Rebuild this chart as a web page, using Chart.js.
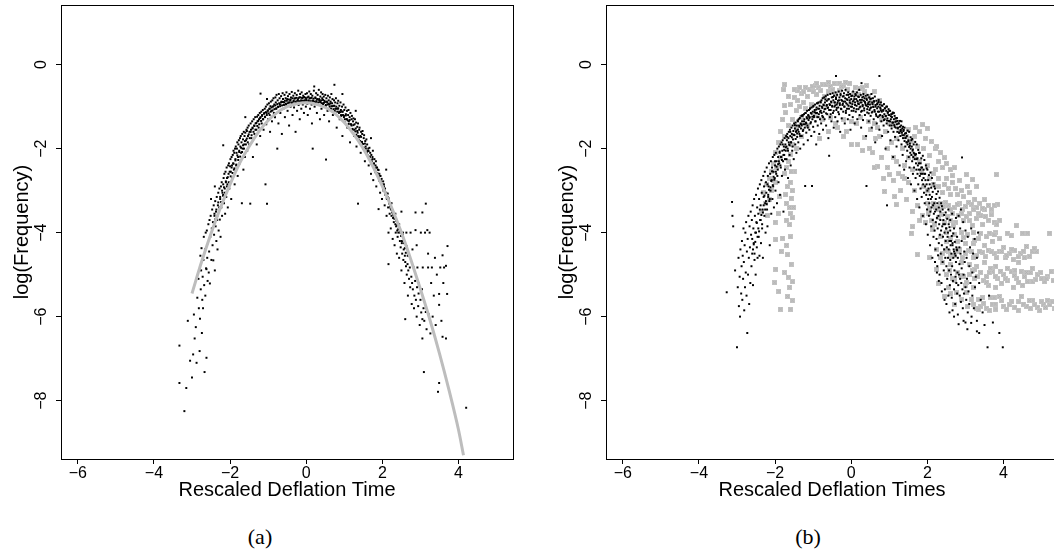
<!DOCTYPE html>
<html><head><meta charset="utf-8">
<script src="https://cdn.jsdelivr.net/npm/chart.js@4.4.1/dist/chart.umd.min.js"></script>
<style>
html,body{margin:0;padding:0;background:#fff;overflow:hidden;width:1054px;height:556px;}
#wrap{position:relative;width:1054px;height:556px;overflow:hidden;background:#fff;}
canvas{position:absolute;top:0;}
.cap{position:absolute;font-family:"Liberation Serif","DejaVu Serif",serif;font-size:22px;color:#000;transform:translate(-50%,-50%);white-space:nowrap;}
</style></head><body>
<div id="wrap">
<canvas id="ca" width="530" height="510" style="left:0px"></canvas>
<canvas id="cb" width="530" height="510" style="left:545px"></canvas>
<div class="cap" style="left:260px;top:537px">(a)</div>
<div class="cap" style="left:808px;top:537px">(b)</div>
</div>
<script>
// ---- tick labels / axis ranges ----
const xTickValues = [-6, -4, -2, 0, 2, 4];
const yTickValues = [0, -2, -4, -6, -8];
const xLimits = [-6.44, 5.43];
const yLimits = [-9.39, 1.42];
const xTitleA = "Rescaled Deflation Time";
const xTitleB = "Rescaled Deflation Times";
const yTitle = "log(Frequency)";

// ---- panel (a): fitted curve (grey) ----
const aFitCurve = [[-3.0,-5.45],[-2.75,-4.7],[-2.5,-4.02],[-2.25,-3.4],[-2.0,-2.85],[-1.75,-2.35],[-1.5,-1.95],[-1.25,-1.6],[-1.0,-1.33],[-0.75,-1.13],[-0.5,-1.0],[-0.25,-0.93],[0.0,-0.91],[0.25,-0.94],[0.5,-1.02],[0.75,-1.16],[1.0,-1.38],[1.25,-1.66],[1.5,-2.0],[1.75,-2.42],[2.0,-2.9],[2.25,-3.42],[2.5,-4.0],[2.75,-4.65],[3.0,-5.35],[3.25,-6.08],[3.5,-6.88],[3.75,-7.75],[4.0,-8.7],[4.13,-9.3]];

// ---- panel (a): observed points (black), scattered part ----
const aObserved = [
[-3.33,-6.69],[-3.33,-7.58],[-3.2,-8.25],[-3.15,-7.7],[-3.11,-6.1],[-3.05,-7.05],[-3.0,-7.45],[-2.97,-6.9],[-2.93,-6.52],[-2.95,-5.95],[-2.9,-6.25],[-2.88,-7.1],[-2.86,-5.55],
[-2.83,-5.1],[-2.82,-5.8],[-2.8,-6.82],[-2.79,-6.05],[-2.78,-4.55],[-2.77,-5.35],[-2.76,-4.9],[-2.75,-4.37],[-2.74,-6.39],[-2.73,-5.6],[-2.72,-5.05],[-2.71,-5.8],[-2.7,-4.65],[-2.69,-4.1],[-2.68,-5.25],[-2.67,-7.32],[-2.66,-4.4],[-2.65,-5.5],[-2.64,-4.0],[-2.63,-4.85],[-2.62,-6.98],[-2.62,-4.87],[-2.61,-3.95],[-2.6,-4.6],[-2.59,-5.15],[-2.58,-4.25],[-2.57,-3.8],[-2.56,-4.95],[-2.55,-4.45],[-2.54,-3.7],[-2.53,-5.21],[-2.52,-4.1],[-2.51,-3.6],
[-2.49,-4.65],[-2.48,-3.9],[-2.47,-3.45],[-2.46,-4.3],[-2.45,-3.75],[-2.44,-4.66],[-2.43,-3.35],[-2.42,-4.05],[-2.41,-3.6],[-2.4,-4.9],[-2.39,-3.25],[-2.38,-3.85],[-2.37,-3.5],[-2.36,-4.2],[-2.35,-3.15],[-2.34,-3.7],[-2.33,-4.4],[-2.32,-3.35],[-2.31,-3.05],[-2.3,-3.95],[-2.29,-3.5],[-2.28,-2.95],[-2.27,-3.69],[-2.26,-3.2],[-2.25,-4.1],[-2.24,-2.9],[-2.23,-3.4],[-2.22,-2.8],[-2.21,-3.6],[-2.2,-3.05],
[-2.18,-3.1],[-2.18,-2.85],[-2.17,-2.7],[-2.16,-3.3],[-2.15,-2.6],[-2.14,-2.95],[-2.13,-3.55],[-2.12,-2.55],[-2.11,-2.8],[-2.1,-3.15],[-2.09,-2.45],[-2.08,-2.7],[-2.07,-2.85],[-2.06,-3.4],[-2.05,-2.4],[-2.04,-2.6],[-2.03,-2.35],[-2.02,-2.95],[-2.0,-2.42],[-1.99,-2.25],[-1.98,-2.55],[-1.97,-3.2],[-1.96,-2.2],[-1.95,-2.4],[-1.94,-2.7],[-1.93,-2.15],[-1.92,-2.35],[-1.91,-2.05],
[-1.9,-2.5],[-1.89,-2.1],[-1.88,-2.85],[-1.87,-2.0],[-1.86,-2.25],[-1.85,-1.95],[-1.84,-2.4],[-1.83,-2.1],[-1.82,-2.0],[-1.81,-1.85],[-1.8,-2.65],[-1.79,-2.2],[-1.78,-1.9],[-1.77,-1.8],[-1.76,-2.05],[-1.75,-2.35],[-1.74,-1.75],[-1.73,-1.95],[-1.72,-1.7],[-1.71,-2.1],[-1.7,-1.85],[-1.69,-3.3],[-1.68,-1.65],[-1.67,-2.0],[-1.66,-1.78],[-1.65,-2.5],[-1.64,-1.6],[-1.63,-1.9],[-1.62,-1.7],[-1.61,-2.2],
[-1.6,-1.62],[-1.58,-1.8],[-1.57,-1.55],[-1.56,-1.58],[-1.55,-2.05],[-1.54,-1.5],[-1.53,-1.7],[-1.51,-1.45],[-1.5,-1.9],[-1.49,-1.6],[-1.47,-3.31],[-1.46,-1.4],[-1.45,-1.55],[-1.44,-1.75],[-1.42,-1.35],[-1.41,-1.5],[-1.4,-2.2],[-1.38,-1.3],[-1.37,-1.45],[-1.36,-1.65],[-1.34,-1.25],[-1.33,-1.4],[-1.31,-1.55],[-1.3,-1.9],[-1.29,-1.24],[-1.28,-1.35],[-1.26,-1.2],[-1.25,-1.5],[-1.24,-1.3],[-1.22,-1.15],[-1.21,-1.7],[-1.2,-1.25],
[-1.18,-1.12],[-1.17,-1.4],[-1.16,-1.2],[-1.14,-1.08],[-1.13,-1.3],[-1.12,-1.55],[-1.1,-1.15],[-1.09,-1.05],[-1.08,-1.25],[-1.07,-2.85],[-1.06,-1.0],[-1.05,-1.42],[-1.04,-1.15],[-1.03,-3.31],[-1.02,-0.95],[-1.01,-1.1],[-1.0,-1.3],[-0.98,-0.92],[-0.97,-1.05],[-0.96,-1.2],[-0.95,-1.6],[-0.94,-0.99],[-0.93,-0.88],[-0.91,-1.1],[-0.9,-1.35],[-0.89,-0.85],[-0.88,-1.0],[-0.86,-0.8],[-0.85,-1.15],[-0.84,-0.95],[-0.82,-1.25],[-0.81,-0.78],[-0.8,-0.9],
[-0.79,-1.05],[-0.78,-0.72],[-0.76,-2.0],[-0.75,-0.85],[-0.74,-1.0],[-0.73,-1.4],[-0.72,-0.7],[-0.7,-0.8],[-0.69,-0.95],[-0.68,-1.15],[-0.66,-0.75],[-0.65,-0.88],[-0.64,-1.65],[-0.62,-0.68],[-0.61,-0.82],[-0.6,-1.05],[-0.58,-0.9],[-0.57,-0.72],[-0.56,-1.25],[-0.54,-0.8],[-0.53,-0.95],[-0.52,-0.66],[-0.5,-0.82],[-0.49,-1.1],[-0.48,-0.75],[-0.46,-0.9],[-0.45,-1.45],[-0.44,-0.7],[-0.42,-0.85],[-0.41,-1.0],
[-0.4,-0.78],[-0.38,-0.65],[-0.37,-0.92],[-0.36,-1.2],[-0.34,-0.74],[-0.33,-0.86],[-0.32,-1.02],[-0.3,-0.68],[-0.29,-0.8],[-0.28,-1.6],[-0.26,-0.9],[-0.25,-0.72],[-0.24,-1.1],[-0.22,-0.84],[-0.21,-0.62],[-0.2,-0.96],[-0.18,-0.78],[-0.17,-1.3],[-0.16,-0.7],[-0.14,-0.88],[-0.13,-1.05],[-0.12,-0.66],[-0.1,-0.8],[-0.09,-0.95],[-0.08,-0.74],[-0.06,-1.15],[-0.05,-0.78],[-0.04,-0.86],[-0.02,-0.7],[-0.01,-1.0],
[0.0,-0.82],[0.02,-0.68],[0.03,-0.93],[0.04,-1.2],[0.06,-0.76],[0.07,-0.88],[0.08,-0.64],[0.1,-1.05],[0.11,-0.8],[0.12,-0.7],[0.14,-0.95],[0.15,-1.4],[0.16,-0.74],[0.17,-2.0],[0.18,-0.86],[0.2,-0.62],[0.21,-0.52],[0.22,-1.0],[0.24,-0.78],[0.25,-0.9],[0.26,-0.68],[0.28,-1.15],[0.29,-0.82],[0.3,-0.72],[0.32,-0.96],[0.33,-0.6],[0.34,-0.85],[0.36,-1.3],[0.37,-0.76],[0.38,-0.9],[0.39,-0.66],
[0.4,-1.05],[0.42,-0.8],[0.43,-0.7],[0.44,-0.94],[0.46,-0.76],[0.47,-1.2],[0.48,-0.86],[0.5,-0.72],[0.51,-0.98],[0.52,-2.26],[0.53,-0.8],[0.55,-0.9],[0.56,-1.1],[0.57,-0.74],[0.59,-0.85],[0.6,-1.35],[0.61,-0.95],[0.62,-0.78],[0.64,-0.88],[0.65,-1.05],[0.66,-0.7],[0.68,-0.92],[0.69,-0.82],[0.7,-1.2],[0.72,-0.98],[0.73,-0.85],[0.74,-0.48],[0.75,-1.1],[0.76,-0.9],[0.78,-0.8],[0.79,-1.0],
[0.8,-1.5],[0.82,-0.92],[0.83,-1.05],[0.84,-0.86],[0.86,-1.15],[0.87,-0.98],[0.88,-1.3],[0.9,-0.9],[0.91,-1.08],[0.92,-1.22],[0.94,-1.0],[0.95,-1.7],[0.96,-1.12],[0.98,-0.95],[0.99,-1.25],[1.0,-1.08],[1.02,-1.38],[1.03,-1.02],[1.04,-1.18],[1.06,-1.3],[1.07,-1.1],[1.08,-1.5],[1.1,-1.2],[1.11,-1.08],[1.12,-1.35],[1.14,-1.25],[1.15,-1.85],[1.16,-1.15],[1.18,-1.42],[1.19,-1.3],
[1.2,-1.22],[1.22,-1.55],[1.23,-1.35],[1.24,-1.28],[1.26,-1.7],[1.27,-1.42],[1.28,-1.3],[1.3,-1.52],[1.31,-1.38],[1.32,-1.95],[1.34,-1.48],[1.35,-1.62],[1.36,-1.4],[1.36,-3.31],[1.38,-1.8],[1.39,-1.55],[1.4,-1.5],[1.42,-1.7],[1.43,-2.1],[1.44,-1.6],[1.46,-1.85],[1.47,-1.65],[1.48,-1.58],[1.5,-2.0],[1.51,-1.75],[1.52,-1.68],[1.54,-2.3],[1.55,-1.82],[1.56,-1.95],[1.58,-1.78],[1.59,-2.1],
[1.6,-1.9],[1.62,-2.05],[1.63,-2.0],[1.64,-2.4],[1.66,-1.98],[1.67,-2.2],[1.68,-2.1],[1.7,-2.6],[1.71,-2.15],[1.72,-2.3],[1.74,-2.2],[1.75,-2.05],[1.76,-2.75],[1.78,-2.35],[1.79,-2.25],[1.8,-2.5],[1.82,-2.4],[1.83,-2.3],[1.84,-2.9],[1.86,-2.45],[1.87,-2.6],[1.88,-2.5],[1.9,-2.51],[1.9,-3.44],[1.91,-2.7],[1.92,-2.6],[1.94,-3.05],[1.95,-2.65],[1.96,-2.8],[1.98,-2.72],[1.99,-3.2],
[2.0,-2.85],[2.02,-2.78],[2.03,-3.0],[2.04,-2.9],[2.06,-3.35],[2.07,-2.95],[2.08,-3.1],[2.1,-3.05],[2.11,-3.6],[2.12,-3.2],[2.14,-3.15],[2.15,-3.4],[2.16,-3.18],[2.16,-4.0],[2.16,-4.75],[2.18,-3.3],[2.19,-3.55],[2.2,-3.38],[2.22,-3.9],[2.23,-3.45],[2.24,-3.6],[2.26,-3.52],[2.27,-4.15],[2.28,-3.65],[2.3,-3.75],[2.31,-3.6],[2.32,-4.3],[2.34,-3.8],[2.35,-4.0],[2.36,-3.85],[2.38,-4.5],[2.39,-3.95],
[2.4,-4.1],[2.42,-4.0],[2.43,-3.86],[2.44,-4.6],[2.46,-4.2],[2.47,-4.0],[2.48,-4.35],[2.5,-4.9],[2.51,-4.25],[2.52,-4.5],[2.54,-4.0],[2.55,-4.65],[2.56,-4.4],[2.58,-5.2],[2.59,-4.55],[2.6,-4.7],[2.6,-6.06],[2.62,-4.8],[2.63,-4.0],[2.64,-5.0],[2.66,-4.75],[2.67,-5.5],[2.68,-4.9],[2.69,-4.54],[2.7,-5.1],[2.72,-4.83],[2.73,-5.3],[2.74,-4.0],[2.76,-5.05],[2.77,-5.7],[2.78,-5.2],[2.79,-4.4],
[2.8,-5.35],[2.82,-4.83],[2.83,-5.8],[2.84,-5.5],[2.86,-5.15],[2.87,-3.52],[2.87,-3.94],[2.88,-5.6],[2.9,-6.0],[2.91,-5.3],[2.92,-4.83],[2.94,-5.75],[2.95,-5.45],[2.96,-5.21],[2.98,-6.2],[3.0,-5.6],[3.01,-4.0],[3.02,-5.9],[3.04,-5.35],[3.05,-3.52],[3.05,-6.06],[3.05,-6.52],[3.06,-4.83],[3.08,-5.8],[3.09,-7.32],[3.1,-6.1],[3.12,-4.0],[3.14,-5.89],[3.14,-3.31],[3.16,-6.3],[3.18,-3.94],[3.2,-4.83],
[3.22,-5.95],[3.24,-4.0],[3.26,-6.4],[3.28,-5.2],[3.3,-4.83],[3.32,-6.0],[3.35,-5.5],[3.38,-4.6],[3.4,-6.2],[3.43,-5.0],[3.46,-7.79],[3.49,-5.72],[3.49,-7.58],[3.49,-5.46],[3.52,-4.83],[3.55,-6.1],[3.58,-6.48],[3.58,-4.54],[3.6,-5.2],[3.62,-4.83],[3.67,-6.52],[3.67,-4.79],[3.71,-4.32],[3.7,-5.46],[4.2,-8.17],
[-1.2,-0.69],[-1.03,-0.82],[-2.18,-1.92],[-1.6,-1.25],[-2.4,-2.9],[-2.5,-3.2],[0.95,-0.7],[1.3,-1.1],[1.7,-1.75],[2.1,-2.5],[2.5,-3.5],[2.9,-4.3],[3.2,-4.5]
];

// ---- panel (a): observed points (black), dense core of the band ----
const aObservedCore = [
[-2.41,-3.55],[-2.385,-3.68],[-2.36,-3.45],[-2.335,-3.6],[-2.31,-3.28],[-2.285,-3.4],[-2.26,-3.15],[-2.235,-3.27],
[-2.21,-3.0],[-2.185,-3.12],[-2.16,-2.92],[-2.135,-3.05],[-2.11,-2.78],[-2.085,-2.9],[-2.06,-2.68],[-2.035,-2.8],
[-2.01,-2.55],[-1.985,-2.66],[-1.96,-2.45],[-1.935,-2.58],[-1.91,-2.36],[-1.885,-2.47],[-1.86,-2.28],[-1.835,-2.38],
[-1.81,-2.16],[-1.785,-2.27],[-1.76,-2.08],[-1.735,-2.19],[-1.71,-1.98],[-1.685,-2.08],[-1.66,-1.92],[-1.635,-2.0],
[-1.61,-1.82],[-1.585,-1.9],[-1.56,-1.76],[-1.535,-1.85],[-1.51,-1.66],[-1.485,-1.75],[-1.46,-1.6],[-1.435,-1.68],
[-1.41,-1.52],[-1.385,-1.6],[-1.36,-1.46],[-1.335,-1.55],[-1.31,-1.39],[-1.285,-1.46],[-1.26,-1.34],[-1.235,-1.42],
[-1.21,-1.27],[-1.185,-1.34],[-1.16,-1.22],[-1.135,-1.3],[-1.11,-1.17],[-1.085,-1.24],[-1.06,-1.13],[-1.035,-1.2],
[-1.01,-1.09],[-0.985,-1.16],[-0.96,-1.05],[-0.935,-1.12],[-0.91,-1.02],[-0.885,-1.09],[-0.86,-0.99],[-0.835,-1.06],
[-0.81,-0.97],[-0.785,-1.04],[-0.76,-0.94],[-0.735,-1.01],[-0.71,-0.92],[-0.685,-0.99],[-0.66,-0.9],[-0.635,-0.97],
[-0.61,-0.89],[-0.585,-0.96],[-0.56,-0.86],[-0.535,-0.93],[-0.51,-0.86],[-0.485,-0.92],[-0.46,-0.83],[-0.435,-0.9],
[-0.41,-0.83],[-0.385,-0.9],[-0.36,-0.8],[-0.335,-0.88],[-0.31,-0.81],[-0.285,-0.88],[-0.26,-0.79],[-0.235,-0.86],
[-0.21,-0.8],[-0.185,-0.87],[-0.16,-0.78],[-0.135,-0.85],[-0.11,-0.79],[-0.085,-0.86],[-0.06,-0.77],[-0.035,-0.85],
[-0.01,-0.79],[0.015,-0.86],[0.04,-0.78],[0.065,-0.85],[0.09,-0.8],[0.115,-0.87],[0.14,-0.79],[0.165,-0.86],
[0.19,-0.81],[0.215,-0.88],[0.24,-0.8],[0.265,-0.87],[0.29,-0.83],[0.315,-0.9],[0.34,-0.82],[0.365,-0.89],
[0.39,-0.85],[0.415,-0.92],[0.44,-0.84],[0.465,-0.91],[0.49,-0.89],[0.515,-0.96],[0.54,-0.88],[0.565,-0.95],
[0.59,-0.93],[0.615,-1.0],[0.64,-0.92],[0.665,-0.99],[0.69,-0.99],[0.715,-1.06],[0.74,-0.98],[0.765,-1.05],
[0.79,-1.05],[0.815,-1.12],[0.84,-1.04],[0.865,-1.12],[0.89,-1.13],[0.915,-1.2],[0.94,-1.12],[0.965,-1.2],
[0.99,-1.22],[1.015,-1.3],[1.04,-1.21],[1.065,-1.3],[1.09,-1.33],[1.115,-1.41],[1.14,-1.32],[1.165,-1.42],
[1.19,-1.45],[1.215,-1.53],[1.24,-1.44],[1.265,-1.55],[1.29,-1.59],[1.315,-1.67],[1.34,-1.58],[1.365,-1.7],
[1.39,-1.73],[1.415,-1.82],[1.44,-1.72],[1.465,-1.84],[1.49,-1.89],[1.515,-1.98],[1.54,-1.88],[1.565,-2.0],
[1.59,-2.07],[1.615,-2.16],[1.64,-2.06],[1.665,-2.19],[1.69,-2.27],[1.715,-2.36],[1.74,-2.25],[1.765,-2.38],
[1.79,-2.47],[1.815,-2.56],[1.84,-2.45],[1.865,-2.58],[1.89,-2.67],[1.915,-2.76],[1.94,-2.65],[1.965,-2.78],
[1.99,-2.87],[2.015,-2.96],[2.04,-2.85],[2.065,-3.0],[2.09,-3.09],[2.115,-3.18],[2.14,-3.07],[2.165,-3.22],
[2.19,-3.32],[2.215,-3.42],[2.24,-3.3],[2.265,-3.46],[2.29,-3.57],[2.315,-3.67],[2.34,-3.55],[2.365,-3.72],
[2.39,-3.82],[2.415,-3.92],[2.44,-3.8],[2.465,-3.98],[2.49,-4.08],[2.515,-4.2],[2.54,-4.06],[2.565,-4.25],
[2.59,-4.37],[2.615,-4.48],[2.64,-4.33],[2.665,-4.55]
];

// ---- panel (b): observed points (black), scattered part ----
const bObserved = [
[-3.27,-5.42],[-3.13,-3.27],[-3.12,-3.6],[-3.1,-3.85],[-3.05,-4.9],[-3.0,-6.73],[-2.98,-5.3],[-2.96,-4.6],[-2.95,-5.75],[-2.93,-5.05],[-2.92,-6.0],[-2.91,-4.4],
[-2.89,-5.45],[-2.88,-4.8],[-2.87,-4.2],[-2.86,-5.6],[-2.85,-4.55],[-2.84,-5.1],[-2.83,-3.9],[-2.82,-4.7],[-2.81,-5.85],[-2.8,-4.3],[-2.79,-5.3],[-2.78,-4.0],[-2.77,-4.95],[-2.76,-3.75],[-2.75,-5.5],[-2.74,-4.45],[-2.73,-6.39],[-2.72,-4.15],[-2.71,-5.0],[-2.7,-3.6],[-2.69,-4.6],[-2.68,-5.7],[-2.67,-3.85],[-2.66,-4.35],[-2.65,-5.2],[-2.64,-3.5],[-2.63,-4.05],[-2.62,-4.8],[-2.61,-3.7],
[-2.6,-4.5],[-2.59,-3.35],[-2.58,-5.25],[-2.57,-3.9],[-2.56,-4.25],[-2.55,-3.2],[-2.54,-4.65],[-2.53,-3.6],[-2.52,-4.0],[-2.51,-5.0],[-2.5,-3.1],[-2.49,-3.75],[-2.48,-4.35],[-2.47,-3.4],[-2.46,-4.6],[-2.45,-2.95],[-2.44,-3.55],[-2.43,-4.1],[-2.42,-3.2],[-2.41,-4.55],[-2.4,-2.85],[-2.39,-3.7],[-2.38,-3.35],[-2.37,-4.25],[-2.36,-2.75],[-2.35,-3.05],[-2.34,-3.9],[-2.33,-3.45],[-2.32,-4.6],[-2.31,-2.65],
[-2.3,-3.15],[-2.29,-2.9],[-2.28,-3.6],[-2.27,-2.55],[-2.26,-3.3],[-2.25,-4.0],[-2.24,-2.8],[-2.23,-3.05],[-2.22,-2.45],[-2.21,-3.45],[-2.2,-3.85],[-2.19,-2.65],[-2.18,-3.15],[-2.17,-2.9],[-2.16,-2.35],[-2.15,-3.25],[-2.14,-4.3],[-2.13,-2.6],[-2.12,-3.0],[-2.11,-2.3],[-2.1,-3.55],[-2.09,-2.75],[-2.08,-2.45],[-2.07,-3.2],[-2.06,-2.2],[-2.05,-2.9],[-2.04,-2.55],[-2.03,-3.4],[-2.02,-2.15],[-2.01,-2.7],
[-2.0,-2.4],[-1.99,-3.0],[-1.98,-2.1],[-1.97,-2.6],[-1.96,-2.3],[-1.95,-3.3],[-1.94,-2.0],[-1.93,-2.5],[-1.92,-2.2],[-1.91,-2.8],[-1.9,-1.95],[-1.89,-2.35],[-1.88,-2.1],[-1.87,-3.1],[-1.86,-1.9],[-1.85,-2.45],[-1.84,-2.2],[-1.83,-1.85],[-1.82,-2.65],[-1.81,-2.05],[-1.8,-1.8],[-1.79,-2.3],[-1.78,-3.5],[-1.77,-1.95],[-1.76,-2.15],[-1.75,-1.75],[-1.74,-2.5],[-1.73,-1.9],[-1.72,-2.05],[-1.71,-1.7],
[-1.7,-2.25],[-1.69,-1.8],[-1.68,-1.65],[-1.67,-2.0],[-1.66,-2.7],[-1.65,-1.75],[-1.64,-1.6],[-1.63,-1.9],[-1.62,-2.15],[-1.61,-1.55],[-1.6,-1.7],[-1.59,-2.4],[-1.58,-1.85],[-1.57,-1.5],[-1.56,-1.65],[-1.55,-2.05],[-1.54,-1.45],[-1.53,-1.78],[-1.52,-1.58],[-1.51,-2.25],[-1.5,-1.4],[-1.49,-1.68],[-1.48,-1.52],[-1.47,-1.9],[-1.46,-1.38],[-1.45,-1.6],[-1.44,-2.1],[-1.43,-1.45],[-1.42,-1.72],[-1.41,-1.33],
[-1.4,-1.55],[-1.39,-1.85],[-1.38,-1.3],[-1.37,-1.45],[-1.36,-1.65],[-1.35,-1.27],[-1.34,-2.0],[-1.33,-1.4],[-1.32,-1.52],[-1.31,-1.22],[-1.3,-1.7],[-1.29,-1.35],[-1.28,-1.2],[-1.27,-1.58],[-1.26,-1.42],[-1.25,-1.9],[-1.24,-1.18],[-1.23,-1.3],[-1.22,-1.5],[-1.21,-2.89],[-1.2,-1.15],[-1.19,-1.38],[-1.18,-1.62],[-1.17,-1.25],[-1.16,-1.1],[-1.15,-1.45],[-1.14,-1.8],[-1.13,-1.2],[-1.12,-1.32],[-1.11,-1.08],
[-1.1,-1.55],[-1.09,-1.25],[-1.08,-1.05],[-1.07,-1.4],[-1.06,-1.15],[-1.05,-1.7],[-1.04,-1.02],[-1.03,-2.89],[-1.02,-1.3],[-1.01,-1.12],[-1.0,-1.48],[-0.99,-0.98],[-0.98,-1.22],[-0.97,-1.6],[-0.96,-1.08],[-0.95,-0.95],[-0.94,-1.35],[-0.93,-1.15],[-0.92,-1.9],[-0.91,-1.02],[-0.9,-0.92],[-0.89,-1.25],[-0.88,-1.45],[-0.87,-1.05],[-0.86,-0.9],[-0.85,-1.18],[-0.84,-1.65],[-0.83,-0.98],[-0.82,-1.3],[-0.81,-0.88],
[-0.8,-1.1],[-0.79,-1.4],[-0.78,-0.85],[-0.77,-1.0],[-0.76,-1.22],[-0.75,-0.8],[-0.74,-1.55],[-0.73,-0.95],[-0.72,-1.12],[-0.71,-0.78],[-0.7,-1.3],[-0.69,-0.9],[-0.68,-1.05],[-0.67,-0.75],[-0.66,-1.45],[-0.65,-0.98],[-0.64,-0.86],[-0.63,-1.18],[-0.62,-0.72],[-0.61,-1.02],[-0.6,-1.75],[-0.59,-0.82],[-0.58,-2.17],[-0.57,-0.94],[-0.56,-1.25],[-0.55,-0.7],[-0.54,-1.08],[-0.53,-0.88],[-0.52,-1.35],[-0.51,-0.78],
[-0.5,-0.98],[-0.49,-0.68],[-0.48,-1.15],[-0.47,-0.85],[-0.46,-1.5],[-0.45,-0.74],[-0.44,-1.0],[-0.43,-0.9],[-0.42,-1.25],[-0.41,-0.66],[-0.4,-0.27],[-0.4,-0.82],[-0.39,-1.08],[-0.38,-0.95],[-0.37,-0.72],[-0.36,-1.35],[-0.35,-0.86],[-0.34,-1.02],[-0.33,-0.64],[-0.32,-1.18],[-0.31,-0.78],[-0.3,-0.92],[-0.29,-1.6],[-0.28,-0.7],[-0.27,-1.05],[-0.26,-0.84],[-0.25,-1.28],[-0.24,-0.62],[-0.23,-0.96],[-0.22,-0.76],[-0.21,-1.12],
[-0.2,-0.88],[-0.19,-0.68],[-0.18,-1.0],[-0.17,-1.4],[-0.16,-0.8],[-0.15,-0.6],[-0.14,-1.15],[-0.13,-0.92],[-0.12,-0.72],[-0.11,-1.05],[-0.1,-0.84],[-0.09,-1.3],[-0.08,-0.66],[-0.07,-0.98],[-0.06,-0.78],[-0.05,-1.2],[-0.04,-0.9],[-0.03,-0.7],[-0.02,-1.55],[-0.01,-1.0],[0.0,-0.82],[0.01,-1.1],[0.02,-0.74],[0.03,-0.94],[0.04,-1.25],[0.05,-0.64],[0.06,-0.86],[0.07,-1.04],[0.08,-0.76],[0.09,-1.4],
[0.1,-0.9],[0.11,-0.7],[0.12,-1.12],[0.13,-0.82],[0.14,-0.98],[0.15,-0.66],[0.16,-1.3],[0.17,-0.88],[0.18,-0.76],[0.19,-1.06],[0.2,-0.94],[0.21,-0.6],[0.22,-1.2],[0.23,-0.84],[0.24,-1.0],[0.25,-0.72],[0.26,-1.5],[0.27,-0.44],[0.27,-0.9],[0.28,-1.1],[0.29,-0.78],[0.3,-0.96],[0.31,-1.32],[0.32,-0.7],[0.33,-0.86],[0.34,-1.04],[0.35,-0.8],[0.36,-1.2],[0.37,-0.92],[0.38,-0.74],[0.39,-1.7],
[0.4,-2.89],[0.4,-0.98],[0.41,-0.84],[0.42,-1.14],[0.43,-0.72],[0.44,-1.0],[0.45,-0.9],[0.46,-1.35],[0.47,-0.78],[0.48,-1.08],[0.49,-0.95],[0.5,-0.82],[0.51,-1.22],[0.52,-1.02],[0.53,-0.7],[0.54,-1.5],[0.55,-0.9],[0.56,-1.12],[0.57,-0.8],[0.58,-1.0],[0.59,-1.3],[0.6,-0.88],[0.61,-1.08],[0.62,-0.76],[0.63,-1.85],[0.64,-0.96],[0.65,-1.18],[0.66,-0.86],[0.67,-1.4],[0.68,-1.04],[0.69,-0.92],
[0.7,-1.25],[0.71,-1.0],[0.72,-0.84],[0.73,-1.12],[0.74,-0.27],[0.74,-1.55],[0.75,-0.95],[0.76,-1.2],[0.77,-1.05],[0.78,-0.9],[0.79,-1.35],[0.8,-1.12],[0.81,-1.7],[0.82,-0.98],[0.83,-1.25],[0.84,-1.08],[0.85,-1.45],[0.86,-0.94],[0.87,-1.18],[0.88,-1.3],[0.89,-1.04],[0.9,-2.0],[0.91,-1.22],[0.92,-1.1],[0.93,-1.4],[0.94,-3.35],[0.94,-1.0],[0.95,-1.28],[0.96,-1.15],[0.97,-1.6],[0.98,-1.06],[0.99,-1.34],
[1.0,-1.2],[1.01,-1.45],[1.02,-1.1],[1.03,-1.8],[1.04,-1.3],[1.05,-1.18],[1.06,-1.52],[1.07,-1.25],[1.08,-1.38],[1.09,-1.14],[1.1,-2.2],[1.11,-1.6],[1.12,-1.3],[1.13,-1.44],[1.14,-1.22],[1.15,-1.72],[1.16,-1.36],[1.17,-1.5],[1.18,-1.28],[1.19,-1.95],[1.2,-1.42],[1.21,-1.6],[1.22,-1.34],[1.23,-1.5],[1.24,-1.8],[1.25,-1.4],[1.26,-1.62],[1.27,-2.4],[1.28,-1.48],[1.29,-1.7],
[1.3,-1.55],[1.31,-1.45],[1.32,-1.9],[1.33,-1.62],[1.34,-1.52],[1.35,-2.15],[1.36,-1.75],[1.37,-1.58],[1.38,-1.68],[1.39,-2.5],[1.4,-1.82],[1.41,-1.64],[1.42,-1.95],[1.43,-1.74],[1.44,-2.3],[1.45,-1.85],[1.46,-1.7],[1.47,-2.05],[1.48,-1.9],[1.49,-2.7],[1.5,-1.8],[1.51,-2.2],[1.52,-1.96],[1.53,-2.45],[1.54,-1.88],[1.55,-2.1],[1.56,-2.0],[1.57,-2.85],[1.58,-2.15],[1.59,-1.95],
[1.6,-2.3],[1.61,-2.05],[1.62,-2.6],[1.63,-2.2],[1.64,-2.1],[1.65,-2.45],[1.66,-3.0],[1.67,-2.25],[1.68,-2.15],[1.69,-2.7],[1.7,-2.35],[1.71,-2.5],[1.72,-2.25],[1.73,-3.2],[1.74,-2.6],[1.75,-2.4],[1.76,-2.85],[1.77,-2.5],[1.78,-2.35],[1.79,-3.4],[1.8,-2.65],[1.81,-2.5],[1.82,-2.95],[1.83,-2.6],[1.84,-2.45],[1.85,-3.15],[1.86,-2.75],[1.87,-2.6],[1.88,-3.6],[1.89,-2.85],
[1.9,-2.7],[1.91,-3.05],[1.92,-2.6],[1.93,-3.3],[1.94,-2.9],[1.95,-2.75],[1.96,-3.8],[1.97,-3.1],[1.98,-2.85],[1.99,-3.45],[2.0,-3.0],[2.01,-4.05],[2.02,-3.2],[2.03,-2.95],[2.04,-3.6],[2.05,-3.3],[2.06,-3.1],[2.07,-4.3],[2.08,-3.5],[2.09,-3.2],[2.1,-3.85],[2.11,-3.4],[2.12,-3.15],[2.13,-4.6],[2.14,-3.7],[2.15,-3.35],[2.16,-4.1],[2.17,-3.55],[2.18,-3.3],[2.19,-3.95],
[2.2,-3.5],[2.21,-4.4],[2.22,-3.75],[2.23,-3.45],[2.24,-4.15],[2.25,-3.65],[2.26,-4.8],[2.27,-3.9],[2.28,-4.54],[2.29,-3.6],[2.3,-4.25],[2.31,-3.8],[2.32,-5.0],[2.33,-4.05],[2.34,-3.7],[2.35,-4.5],[2.36,-3.95],[2.37,-5.2],[2.38,-4.3],[2.39,-3.85],[2.4,-4.7],[2.41,-4.1],[2.42,-3.8],[2.43,-4.9],[2.44,-4.4],[2.45,-4.0],[2.46,-5.35],[2.47,-4.6],[2.48,-4.2],[2.49,-3.9],
[2.5,-4.8],[2.51,-4.35],[2.52,-5.1],[2.53,-4.1],[2.54,-4.6],[2.55,-5.5],[2.56,-4.4],[2.57,-4.9],[2.58,-4.2],[2.59,-5.25],[2.6,-4.65],[2.61,-4.3],[2.62,-5.0],[2.63,-4.5],[2.64,-5.55],[2.65,-4.8],[2.66,-4.25],[2.67,-5.15],[2.68,-4.6],[2.69,-4.4],[2.7,-5.35],[2.71,-4.9],[2.72,-4.5],[2.73,-5.7],[2.74,-5.05],[2.75,-4.7],[2.76,-5.2],[2.77,-4.4],[2.78,-5.45],[2.79,-4.95],
[2.8,-4.6],[2.81,-5.25],[2.82,-6.18],[2.83,-5.0],[2.84,-4.75],[2.85,-5.5],[2.86,-5.1],[2.87,-4.5],[2.88,-5.65],[2.89,-5.2],[2.9,-4.85],[2.91,-2.21],[2.92,-5.35],[2.93,-5.8],[2.95,-5.0],[2.96,-5.45],[2.98,-4.7],[3.0,-6.14],[3.0,-5.3],[3.02,-5.6],[3.04,-5.1],[3.06,-5.9],[3.08,-5.4],
[3.1,-5.7],[3.13,-5.2],[3.16,-6.0],[3.18,-5.5],[3.22,-5.8],[3.25,-5.3],[3.3,-6.1],[3.36,-6.39],[3.4,-5.6],[3.45,-5.9],[3.5,-6.2],[3.58,-6.73],[3.62,-5.5],[3.72,-6.14],[3.89,-6.39],[3.98,-6.73],
[2.82,-3.6],[2.86,-3.9],[2.9,-4.2],[2.94,-3.75],[2.97,-4.45],[3.0,-3.95],[3.03,-4.6],[3.06,-4.1],[3.1,-4.8],[3.12,-4.35],[3.15,-3.9],[3.18,-4.95],[3.2,-4.5],[3.24,-4.15],[3.27,-5.05],[3.3,-4.6],[3.33,-4.0],[3.36,-5.2],[2.55,-3.45],[2.6,-3.7],[2.65,-3.55],[2.7,-3.9],[2.75,-3.65],[2.78,-4.1],[2.84,-4.35],[2.88,-3.45],[2.5,-5.7],[2.58,-5.9],[2.66,-5.85],[2.7,-6.0],[2.8,-5.95],[2.95,-6.1],[3.05,-6.3],[3.15,-6.15],[3.3,-6.35],[2.45,-5.6],[2.38,-5.4],[2.3,-5.15],[2.25,-4.95],[2.2,-4.7]
];

// ---- panel (b): observed points (black), dense core ----
const bObservedCore = [
[-2.6,-4.15],[-2.58,-4.4],[-2.56,-4.28],[-2.54,-4.5],[-2.52,-4.22],[-2.5,-4.0],[-2.48,-3.77],[-2.46,-4.1],[-2.44,-3.9],[-2.42,-3.97],
[-2.4,-3.45],[-2.38,-3.7],[-2.36,-3.58],[-2.34,-3.8],[-2.32,-3.52],[-2.3,-3.35],[-2.28,-3.12],[-2.26,-3.45],[-2.24,-3.25],[-2.22,-3.32],
[-2.2,-2.85],[-2.18,-3.1],[-2.16,-2.98],[-2.14,-3.2],[-2.12,-2.92],[-2.1,-2.77],[-2.08,-2.54],[-2.06,-2.87],[-2.04,-2.67],[-2.02,-2.74],
[-2.0,-2.3],[-1.98,-2.55],[-1.96,-2.43],[-1.94,-2.65],[-1.92,-2.37],[-1.9,-2.3],[-1.88,-2.07],[-1.86,-2.4],[-1.84,-2.2],[-1.82,-2.27],
[-1.8,-1.9],[-1.78,-2.15],[-1.76,-2.03],[-1.74,-2.25],[-1.72,-1.97],[-1.7,-1.95],[-1.68,-1.72],[-1.66,-2.05],[-1.64,-1.85],[-1.62,-1.92],
[-1.6,-1.6],[-1.58,-1.85],[-1.56,-1.73],[-1.54,-1.95],[-1.52,-1.67],[-1.5,-1.67],[-1.48,-1.44],[-1.46,-1.77],[-1.44,-1.57],[-1.42,-1.64],
[-1.4,-1.35],[-1.38,-1.6],[-1.36,-1.48],[-1.34,-1.7],[-1.32,-1.42],[-1.3,-1.45],[-1.28,-1.22],[-1.26,-1.55],[-1.24,-1.35],[-1.22,-1.42],
[-1.2,-1.15],[-1.18,-1.4],[-1.16,-1.28],[-1.14,-1.5],[-1.12,-1.22],[-1.1,-1.27],[-1.08,-1.04],[-1.06,-1.37],[-1.04,-1.17],[-1.02,-1.24],
[-1.0,-1.0],[-0.98,-1.25],[-0.96,-1.13],[-0.94,-1.35],[-0.92,-1.07],[-0.9,-1.15],[-0.88,-0.92],[-0.86,-1.25],[-0.84,-1.05],[-0.82,-1.12],
[-0.8,-0.9],[-0.78,-1.15],[-0.76,-1.03],[-0.74,-1.25],[-0.72,-0.97],[-0.7,-1.06],[-0.68,-0.83],[-0.66,-1.16],[-0.64,-0.96],[-0.62,-1.03],
[-0.6,-0.83],[-0.58,-1.08],[-0.56,-0.96],[-0.54,-1.18],[-0.52,-0.9],[-0.5,-1.0],[-0.48,-0.77],[-0.46,-1.1],[-0.44,-0.9],[-0.42,-0.97],
[-0.4,-0.78],[-0.38,-1.03],[-0.36,-0.91],[-0.34,-1.13],[-0.32,-0.85],[-0.3,-0.96],[-0.28,-0.73],[-0.26,-1.06],[-0.24,-0.86],[-0.22,-0.93],
[-0.2,-0.75],[-0.18,-1.0],[-0.16,-0.88],[-0.14,-1.1],[-0.12,-0.82],[-0.1,-0.95],[-0.08,-0.72],[-0.06,-1.05],[-0.04,-0.85],[-0.02,-0.92],
[0.0,-0.75],[0.02,-1.0],[0.04,-0.88],[0.06,-1.1],[0.08,-0.82],[0.1,-0.96],[0.12,-0.73],[0.14,-1.06],[0.16,-0.86],[0.18,-0.93],
[0.2,-0.77],[0.22,-1.02],[0.24,-0.9],[0.26,-1.12],[0.28,-0.84],[0.3,-0.99],[0.32,-0.76],[0.34,-1.09],[0.36,-0.89],[0.38,-0.96],
[0.4,-0.81],[0.42,-1.06],[0.44,-0.94],[0.46,-1.16],[0.48,-0.88],[0.5,-1.04],[0.52,-0.81],[0.54,-1.14],[0.56,-0.94],[0.58,-1.01],
[0.6,-0.87],[0.62,-1.12],[0.64,-1.0],[0.66,-1.22],[0.68,-0.94],[0.7,-1.12],[0.72,-0.89],[0.74,-1.22],[0.76,-1.02],[0.78,-1.09],
[0.8,-0.97],[0.82,-1.22],[0.84,-1.1],[0.86,-1.32],[0.88,-1.04],[0.9,-1.23],[0.92,-1.0],[0.94,-1.33],[0.96,-1.13],[0.98,-1.2],
[1.0,-1.1],[1.02,-1.35],[1.04,-1.23],[1.06,-1.45],[1.08,-1.17],[1.1,-1.38],[1.12,-1.15],[1.14,-1.48],[1.16,-1.28],[1.18,-1.35],
[1.2,-1.27],[1.22,-1.52],[1.24,-1.4],[1.26,-1.62],[1.28,-1.34],[1.3,-1.58],[1.32,-1.35],[1.34,-1.68],[1.36,-1.48],[1.38,-1.55],
[1.4,-1.5],[1.42,-1.75],[1.44,-1.63],[1.46,-1.85],[1.48,-1.57],[1.5,-1.83],[1.52,-1.6],[1.54,-1.93],[1.56,-1.73],[1.58,-1.8],
[1.6,-1.77],[1.62,-2.02],[1.64,-1.9],[1.66,-2.12],[1.68,-1.84],[1.7,-2.13],[1.72,-1.9],[1.74,-2.23],[1.76,-2.03],[1.78,-2.1],
[1.8,-2.1],[1.82,-2.35],[1.84,-2.23],[1.86,-2.45],[1.88,-2.17],[1.9,-2.5],[1.92,-2.27],[1.94,-2.6],[1.96,-2.4],[1.98,-2.47],
[2.0,-2.5],[2.02,-2.75],[2.04,-2.63],[2.06,-2.85],[2.08,-2.57],[2.1,-2.93],[2.12,-2.7],[2.14,-3.03],[2.16,-2.83],[2.18,-2.9],
[2.2,-2.95],[2.22,-3.2],[2.24,-3.08],[2.26,-3.3],[2.28,-3.02],[2.3,-3.4],[2.32,-3.17],[2.34,-3.5],[2.36,-3.3],[2.38,-3.37],
[2.4,-3.45],[2.42,-3.7],[2.44,-3.58],[2.46,-3.8],[2.48,-3.52],[2.5,-3.9],[2.52,-3.67],[2.54,-4.0],[2.56,-3.8],[2.58,-3.87],
[2.6,-3.95],[2.62,-4.2],[2.64,-4.08],[2.66,-4.3],[2.68,-4.02],[2.7,-4.45],[2.72,-4.22],[2.74,-4.55],[2.76,-4.35],[2.78,-4.42]
];

// ---- panel (b): second sample (grey squares) ----
const bSecondSample = [
[-1.75,-0.48],[-1.77,-0.6],[-1.75,-0.98],[-1.8,-1.31],[-1.72,-1.15],[-1.85,-1.6],[-1.9,-1.85],[-2.0,-2.1],[-2.1,-2.54],[-2.05,-2.35],[-2.23,-2.86],[-2.15,-2.7],[-2.3,-3.05],[-2.25,-3.3],[-2.1,-3.0],[-1.98,-2.8],[-1.88,-3.14],[-1.58,-3.18],[-1.62,-3.4],[-1.7,-3.3],[-1.55,-3.0],[-1.62,-3.81],[-1.55,-3.65],[-1.7,-3.7],[-1.8,-4.13],[-1.98,-4.17],[-1.84,-4.45],[-1.67,-4.53],[-1.98,-4.87],[-2.01,-5.19],[-1.65,-5.06],[-1.54,-5.17],[-1.67,-5.52],[-1.55,-5.62],[-1.86,-5.82],[-1.59,-5.82],[-2.35,-3.5],[-2.2,-3.6],[-1.75,-2.6],[-1.65,-2.3],[-1.6,-2.8],[-1.5,-2.55],[-2.0,-3.75],[-1.92,-3.55],
[-1.6,-0.95],[-1.5,-0.78],[-1.4,-0.62],[-1.3,-0.69],[-1.2,-0.55],[-1.1,-0.6],[-1.03,-0.52],[-0.95,-0.5],[-0.85,-0.55],[-0.75,-0.48],[-0.67,-0.48],[-0.55,-0.52],[-0.45,-0.45],[-0.31,-0.44],[-0.2,-0.5],[-0.04,-0.44],[0.1,-0.55],[0.22,-0.57],[0.35,-0.65],[-1.45,-1.1],[-1.35,-1.0],[-1.25,-0.9],[-1.55,-1.3],[-1.45,-1.5],[-1.3,-1.25],[-0.9,-0.7],[-0.6,-0.65],[-0.3,-0.62],
[-0.83,-1.75],[-0.6,-1.6],[-0.13,-1.59],[0.0,-1.91],[0.17,-1.91],[0.35,-1.74],[0.48,-1.99],[0.56,-2.1],[0.5,-1.55],[-0.35,-1.5],[0.15,-1.4],[0.65,-1.75],[0.7,-2.42],[1.0,-2.62],[0.87,-3.02],[1.14,-3.14],[1.18,-3.34],[1.35,-2.66],[0.8,-2.2],[0.95,-2.0],[1.2,-2.3],
[0.8,-1.3],[1.0,-1.4],[1.12,-1.41],[1.3,-1.6],[1.45,-1.7],[1.57,-1.83],[1.7,-1.5],[1.88,-1.43],[2.0,-1.51],[2.1,-1.83],[2.05,-2.17],[1.9,-2.0],[1.8,-2.3],[2.2,-2.0],[2.3,-2.3],[2.45,-2.22],[2.6,-2.5],[2.71,-2.46],[2.5,-2.7],[2.85,-2.75],[3.02,-2.62],[3.19,-2.74],[3.81,-2.62],[2.9,-3.0],[3.1,-3.05],[3.3,-2.9],[3.5,-3.22],[3.85,-3.32],
[2.0,-3.3],[2.2,-3.4],[2.35,-3.3],[2.55,-3.35],[2.7,-3.4],[2.85,-3.3],[3.0,-3.38],[3.15,-3.32],[3.3,-3.4],[3.6,-3.35],[3.75,-3.35],
[1.8,-3.7],[1.95,-3.75],[2.1,-3.7],[2.3,-3.65],[2.45,-3.75],[2.6,-3.7],[2.75,-3.75],[2.95,-3.7],[3.1,-3.72],[3.28,-3.66],[3.46,-3.81],[3.6,-3.7],[3.75,-3.75],[3.9,-3.7],
[1.58,-4.01],[1.61,-3.86],[2.14,-3.93],[2.5,-4.0],[2.7,-4.05],[2.9,-4.0],[3.05,-4.05],[3.2,-4.0],[3.4,-4.02],[3.63,-4.01],[3.8,-4.0],[4.1,-4.01],[4.33,-3.84],[4.5,-4.01],[4.63,-4.01],[5.21,-4.01],
[1.74,-4.53],[2.05,-4.6],[2.25,-4.4],[2.4,-4.5],[2.55,-4.45],[2.7,-4.55],[2.85,-4.4],[3.0,-4.5],[3.15,-4.45],[3.3,-4.55],[3.45,-4.48],[3.6,-4.42],[3.75,-4.5],[3.89,-4.45],[4.0,-4.35],[4.15,-4.5],[4.3,-4.42],[4.45,-4.5],[4.6,-4.33],[4.75,-4.45],[4.86,-4.45],[3.5,-4.3],[3.2,-4.25],
[2.23,-4.87],[2.5,-5.0],[2.65,-5.1],[2.8,-4.95],[2.95,-5.05],[3.1,-5.0],[3.25,-5.1],[3.4,-4.95],[3.55,-5.05],[3.71,-4.93],[3.85,-5.1],[4.0,-5.0],[4.2,-4.93],[4.35,-5.1],[4.46,-4.93],[4.63,-5.17],[4.77,-5.17],[4.9,-5.0],[5.08,-5.17],[5.25,-4.93],[5.4,-5.05],[3.95,-5.2],[4.1,-5.15],
[2.45,-5.51],[2.76,-5.43],[3.02,-5.43],[3.15,-5.6],[3.28,-5.8],[3.4,-5.75],[3.55,-5.8],[3.7,-5.7],[3.89,-5.52],[4.0,-5.75],[4.15,-5.72],[4.3,-5.78],[4.46,-5.52],[4.6,-5.75],[4.77,-5.62],[4.9,-5.78],[5.05,-5.7],[5.16,-5.62],[5.21,-5.72],[5.35,-5.8],[3.65,-5.55]
];
const bSecondSampleMore = [
[-1.5,-0.6],[-1.35,-0.55],[-1.15,-0.75],[-1.0,-0.65],[-0.8,-0.62],[-0.7,-0.75],[-0.5,-0.6],[-0.4,-0.7],[-0.25,-0.52],[-0.1,-0.6],[0.05,-0.68],[0.2,-0.72],[0.3,-0.55],[0.45,-0.75],[0.55,-0.9],[-1.2,-1.05],[-1.05,-0.95],[-0.95,-1.2],[-0.75,-1.3],[-0.55,-1.25],[-0.4,-1.4],[-0.2,-1.3],[0.0,-1.35],[0.25,-1.25],[0.45,-1.35],[0.7,-1.5],
[-1.55,-1.9],[-1.6,-2.15],[-1.7,-2.45],[-1.58,-2.55],[-1.68,-2.9],[-1.52,-3.4],[-1.6,-3.55],[-1.72,-3.1],[-1.6,-4.1],[-1.7,-4.3],[-1.58,-4.75],[-1.75,-4.95],[-1.62,-5.3],[-1.9,-5.4],
[0.6,-1.4],[0.75,-1.7],[0.9,-1.6],[1.05,-1.85],[1.2,-1.75],[1.35,-2.0],[1.5,-2.2],[1.6,-2.5],[1.4,-2.4],[1.25,-2.6],[1.1,-2.75],[0.95,-2.45],[1.5,-2.8],[1.65,-3.0],[1.45,-3.2],[1.3,-3.0],[1.75,-3.35],[1.6,-3.5],[1.9,-2.9],[2.0,-3.0],[2.15,-2.85],[2.3,-2.7],[2.4,-3.05],[2.6,-3.1],[2.75,-2.95],[2.2,-2.5],[2.4,-2.45],[2.0,-2.4],[1.95,-1.75],[1.75,-1.95],
[2.65,-3.55],[2.9,-3.55],[3.1,-3.55],[3.4,-3.6],[3.5,-3.45],[3.25,-3.2],[2.5,-4.2],[2.8,-4.2],[3.0,-4.25],[3.35,-4.15],[3.7,-4.2],[3.9,-4.15],[4.05,-4.6],[4.25,-4.65],[4.4,-4.7],[4.55,-4.6],[2.4,-4.7],[2.6,-4.75],[2.9,-4.7],[3.1,-4.75],[3.3,-4.8],[3.5,-4.7],[3.65,-4.85],[3.8,-4.8],[4.1,-4.85],[4.3,-4.9],[4.6,-4.95],[4.75,-4.85],[5.0,-5.1],[5.15,-5.05],[3.0,-5.25],[3.2,-5.3],[3.6,-5.25],[3.8,-5.3],[4.25,-5.3],[4.5,-5.25],[2.55,-5.3],[3.35,-5.6],[3.8,-5.82],[4.4,-5.65],[4.7,-5.8],[5.0,-5.65]
];
const bSecondSampleExtra = [
[2.05,-3.42],[2.15,-3.3],[2.28,-3.45],[2.42,-3.38],[2.48,-3.28],[2.62,-3.45],[2.78,-3.33],[2.92,-3.44],[3.08,-3.28],[3.22,-3.45],[3.38,-3.3],[3.45,-3.42],[3.68,-3.44],
[1.88,-3.6],[2.02,-3.55],[2.18,-3.8],[2.38,-3.58],[2.52,-3.62],[2.68,-3.82],[2.82,-3.6],[3.02,-3.62],[3.18,-3.82],[3.35,-3.55],[3.52,-3.62],[3.68,-3.58],[3.82,-3.8],
[1.65,-2.2],[1.85,-2.55],[2.05,-2.7],[2.15,-2.6],[2.3,-2.9],[2.45,-2.85],[2.55,-2.95],[2.65,-2.8],[2.8,-3.1],[2.95,-3.15],[3.05,-2.9],[2.35,-2.1],[2.5,-2.35],[2.65,-2.65],[1.5,-1.55],[1.65,-1.7],[1.8,-1.6],[2.25,-1.95],
[2.35,-4.6],[2.48,-4.42],[2.62,-4.58],[2.78,-4.46],[2.92,-4.6],[3.08,-4.42],[3.22,-4.6],[3.38,-4.45],[3.52,-4.58],[3.68,-4.46],[3.82,-4.6],[3.95,-4.45],[4.08,-4.55],[4.22,-4.4],[4.38,-4.58],[4.52,-4.44],[4.68,-4.56],[4.8,-4.38],
[2.58,-4.9],[2.72,-5.15],[2.88,-5.02],[3.02,-5.18],[3.18,-4.9],[3.32,-5.05],[3.48,-5.15],[3.62,-4.95],[3.78,-5.05],[3.92,-4.92],[4.05,-5.1],[4.28,-5.02],[4.4,-5.18],[4.55,-5.05],[4.7,-4.95],[4.85,-5.12],[4.98,-4.95],[5.12,-5.1],[5.3,-5.15],[3.55,-5.18],[3.25,-4.88],
[3.22,-5.7],[3.35,-5.82],[3.48,-5.68],[3.62,-5.85],[3.78,-5.7],[3.95,-5.62],[4.08,-5.82],[4.22,-5.65],[4.38,-5.85],[4.52,-5.7],[4.68,-5.62],[4.82,-5.72],[4.95,-5.85],[5.1,-5.78],[5.28,-5.65],[3.45,-5.55],[3.75,-5.55],
[2.6,-4.15],[2.95,-4.12],[3.25,-4.18],[3.55,-4.1],[3.75,-4.05],[4.2,-4.08],[2.35,-4.1],
[2.3,-5.2],[2.6,-5.45],[2.7,-5.7],[2.9,-5.6],[3.05,-5.75],
[-1.65,-0.75],[-1.4,-0.85],[-1.25,-0.65],[-0.9,-0.45],[-0.6,-0.42],[-0.15,-0.42],[0.4,-0.5],[0.6,-0.65],[0.75,-0.85],[-1.75,-1.7],[-1.65,-1.45],[-1.85,-2.2],[-1.95,-2.45],[-2.05,-2.75],[-2.15,-3.2],[-1.45,-2.0],[-1.3,-1.7],[-1.15,-1.45],
[-0.2,-1.7],[0.3,-2.05],[0.6,-2.45],[0.85,-2.7],[1.1,-2.2],[1.4,-2.7]
];

// ---------------- rendering ----------------
const FONT = "'Liberation Sans', Arimo, Arial, Helvetica, sans-serif";
const fmt = v => (v < 0 ? '\u2212' + Math.abs(v) : String(v));

function squareX() {
  const c = document.createElement('canvas');
  c.width = 5; c.height = 5;
  const g = c.getContext('2d');
  g.fillStyle = '#c3c3c3'; g.fillRect(0, 0, 5, 5);
  g.strokeStyle = '#b0b0b0'; g.lineWidth = 0.8;
  g.beginPath(); g.moveTo(1, 1); g.lineTo(4, 4); g.moveTo(4, 1); g.lineTo(1, 4); g.stroke();
  return c;
}

const boxPlugin = {
  id: 'box',
  afterDraw(chart) {
    const a = chart.chartArea, ctx = chart.ctx;
    ctx.save();
    ctx.strokeStyle = '#000'; ctx.lineWidth = 1;
    ctx.strokeRect(a.left + 0.5, a.top + 0.5, a.right - a.left, a.bottom - a.top);
    ctx.restore();
  }
};

function axisCommon() {
  return {
    type: 'linear',
    grid: { display: true, drawOnChartArea: false, drawTicks: true, tickLength: 5, color: '#000', tickColor: '#000', lineWidth: 1 },
    border: { display: false },
  };
}

function makeChart(id, datasets, xTitle) {
  return new Chart(document.getElementById(id), {
    type: 'scatter',
    data: { datasets },
    options: {
      responsive: false, animation: false, devicePixelRatio: 1,
      events: [],
      layout: { padding: { top: 5, right: 17, left: 0, bottom: 0 } },
      plugins: { legend: { display: false }, tooltip: { enabled: false } },
      scales: {
        x: Object.assign(axisCommon(), {
          min: xLimits[0], max: xLimits[1],
          afterBuildTicks: s => { s.ticks = xTickValues.map(v => ({ value: v })); },
          afterFit: s => { s.height = 51; s.paddingLeft = 0; s.paddingRight = 0; },
          ticks: { font: { family: FONT, size: 16 }, color: '#000', padding: 0, minRotation: 0, maxRotation: 0, autoSkip: false, callback: fmt },
          title: { display: true, text: xTitle, font: { family: FONT, size: 20 }, color: '#000', padding: { top: 0, bottom: 7.5 } }
        }),
        y: Object.assign(axisCommon(), {
          min: yLimits[0], max: yLimits[1],
          afterBuildTicks: s => { s.ticks = yTickValues.map(v => ({ value: v })); },
          afterFit: s => { s.width = 61; s.paddingTop = 0; s.paddingBottom = 0; },
          ticks: { font: { family: FONT, size: 16 }, color: '#000', padding: 5, minRotation: 90, maxRotation: 90, crossAlign: 'center', autoSkip: false, callback: fmt },
          title: { display: true, text: yTitle, font: { family: FONT, size: 20 }, color: '#000', padding: { top: 10, bottom: 0 } }
        })
      }
    },
    plugins: [boxPlugin]
  });
}

const dotStyle = { pointStyle: 'rect', pointRadius: 1.4, pointHoverRadius: 1.4, pointBorderWidth: 0, backgroundColor: '#000', borderColor: '#000', showLine: false };

// dataset 0 is painted last (on top): grey fitted curve over the black points
makeChart('ca', [
  { type: 'line', label: 'fit', data: aFitCurve, borderColor: '#bdbdbd', borderWidth: 3, pointRadius: 0, fill: false, cubicInterpolationMode: 'monotone', showLine: true },
  Object.assign({ label: 'observed', data: aObserved.concat(aObservedCore) }, dotStyle)
], xTitleA);

const sq = squareX();
makeChart('cb', [
  Object.assign({ label: 'observed', data: bObserved.concat(bObservedCore) }, dotStyle),
  { label: 'second', data: bSecondSample.concat(bSecondSampleMore, bSecondSampleExtra), pointStyle: sq, pointRadius: 3, pointBorderWidth: 0, showLine: false }
], xTitleB);
</script>
</body></html>
